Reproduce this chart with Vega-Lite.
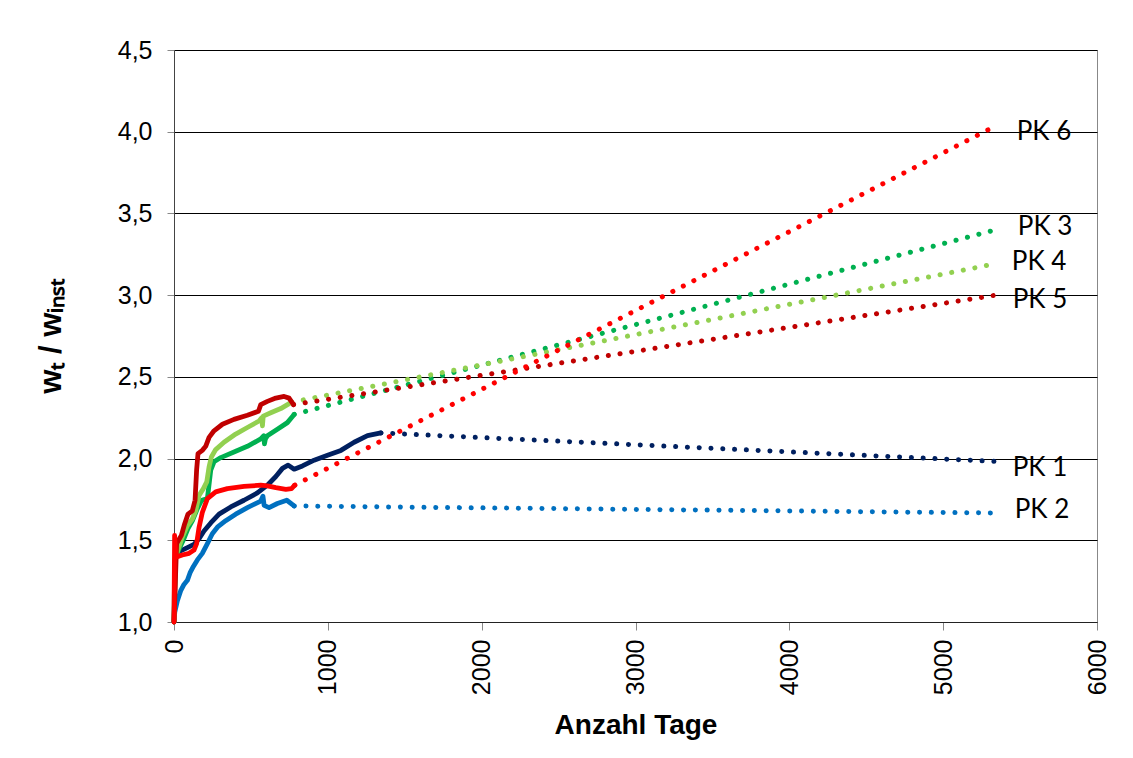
{
  "$schema": "https://vega.github.io/schema/vega-lite/v6.json",
  "width": 923,
  "height": 572,
  "autosize": {"type": "none"},
  "padding": {"left": 174, "top": 50, "right": 36, "bottom": 136},
  "background": "white",
  "config": {
    "view": {"stroke": "#888", "strokeWidth": 1},
    "axis": {"labelFont": "Liberation Sans", "titleFont": "Liberation Sans", "labelColor": "black", "titleColor": "black"}
  },
  "datasets": {
    "series": [
      {"pk": "PK 1", "kind": "m", "day": 0, "value": 1.0},
      {"pk": "PK 1", "kind": "m", "day": 11, "value": 1.42},
      {"pk": "PK 1", "kind": "m", "day": 43, "value": 1.435},
      {"pk": "PK 1", "kind": "m", "day": 87, "value": 1.455},
      {"pk": "PK 1", "kind": "m", "day": 130, "value": 1.475},
      {"pk": "PK 1", "kind": "m", "day": 163, "value": 1.51},
      {"pk": "PK 1", "kind": "m", "day": 195, "value": 1.557},
      {"pk": "PK 1", "kind": "m", "day": 239, "value": 1.606},
      {"pk": "PK 1", "kind": "m", "day": 293, "value": 1.66},
      {"pk": "PK 1", "kind": "m", "day": 369, "value": 1.704},
      {"pk": "PK 1", "kind": "m", "day": 455, "value": 1.745},
      {"pk": "PK 1", "kind": "m", "day": 542, "value": 1.79},
      {"pk": "PK 1", "kind": "m", "day": 607, "value": 1.837},
      {"pk": "PK 1", "kind": "m", "day": 662, "value": 1.89},
      {"pk": "PK 1", "kind": "m", "day": 705, "value": 1.94},
      {"pk": "PK 1", "kind": "m", "day": 742, "value": 1.96},
      {"pk": "PK 1", "kind": "m", "day": 781, "value": 1.935},
      {"pk": "PK 1", "kind": "m", "day": 835, "value": 1.955},
      {"pk": "PK 1", "kind": "m", "day": 911, "value": 1.99},
      {"pk": "PK 1", "kind": "m", "day": 998, "value": 2.02},
      {"pk": "PK 1", "kind": "m", "day": 1085, "value": 2.05},
      {"pk": "PK 1", "kind": "m", "day": 1171, "value": 2.1},
      {"pk": "PK 1", "kind": "m", "day": 1258, "value": 2.14},
      {"pk": "PK 1", "kind": "m", "day": 1345, "value": 2.157},
      {"pk": "PK 1", "kind": "f", "day": 1345, "value": 2.157},
      {"pk": "PK 1", "kind": "f", "day": 5330, "value": 1.983},

      {"pk": "PK 2", "kind": "m", "day": 0, "value": 1.0},
      {"pk": "PK 2", "kind": "m", "day": 5, "value": 1.06},
      {"pk": "PK 2", "kind": "m", "day": 22, "value": 1.13},
      {"pk": "PK 2", "kind": "m", "day": 43, "value": 1.19},
      {"pk": "PK 2", "kind": "m", "day": 65, "value": 1.23},
      {"pk": "PK 2", "kind": "m", "day": 87, "value": 1.255},
      {"pk": "PK 2", "kind": "m", "day": 104, "value": 1.3},
      {"pk": "PK 2", "kind": "m", "day": 126, "value": 1.34},
      {"pk": "PK 2", "kind": "m", "day": 152, "value": 1.38},
      {"pk": "PK 2", "kind": "m", "day": 184, "value": 1.42},
      {"pk": "PK 2", "kind": "m", "day": 217, "value": 1.48},
      {"pk": "PK 2", "kind": "m", "day": 249, "value": 1.54},
      {"pk": "PK 2", "kind": "m", "day": 282, "value": 1.58},
      {"pk": "PK 2", "kind": "m", "day": 336, "value": 1.62},
      {"pk": "PK 2", "kind": "m", "day": 401, "value": 1.66},
      {"pk": "PK 2", "kind": "m", "day": 477, "value": 1.7},
      {"pk": "PK 2", "kind": "m", "day": 564, "value": 1.74},
      {"pk": "PK 2", "kind": "m", "day": 578, "value": 1.77},
      {"pk": "PK 2", "kind": "m", "day": 586, "value": 1.714},
      {"pk": "PK 2", "kind": "m", "day": 618, "value": 1.7},
      {"pk": "PK 2", "kind": "m", "day": 672, "value": 1.725},
      {"pk": "PK 2", "kind": "m", "day": 733, "value": 1.745},
      {"pk": "PK 2", "kind": "m", "day": 781, "value": 1.71},
      {"pk": "PK 2", "kind": "f", "day": 781, "value": 1.71},
      {"pk": "PK 2", "kind": "f", "day": 5330, "value": 1.667},

      {"pk": "PK 3", "kind": "m", "day": 0, "value": 1.0},
      {"pk": "PK 3", "kind": "m", "day": 5, "value": 1.38},
      {"pk": "PK 3", "kind": "m", "day": 30, "value": 1.44},
      {"pk": "PK 3", "kind": "m", "day": 60, "value": 1.5},
      {"pk": "PK 3", "kind": "m", "day": 90, "value": 1.57},
      {"pk": "PK 3", "kind": "m", "day": 120, "value": 1.62},
      {"pk": "PK 3", "kind": "m", "day": 150, "value": 1.69},
      {"pk": "PK 3", "kind": "m", "day": 180, "value": 1.745},
      {"pk": "PK 3", "kind": "m", "day": 217, "value": 1.755},
      {"pk": "PK 3", "kind": "m", "day": 239, "value": 1.93},
      {"pk": "PK 3", "kind": "m", "day": 260, "value": 1.98},
      {"pk": "PK 3", "kind": "m", "day": 304, "value": 2.006},
      {"pk": "PK 3", "kind": "m", "day": 390, "value": 2.04},
      {"pk": "PK 3", "kind": "m", "day": 477, "value": 2.075},
      {"pk": "PK 3", "kind": "m", "day": 564, "value": 2.12},
      {"pk": "PK 3", "kind": "m", "day": 584, "value": 2.14},
      {"pk": "PK 3", "kind": "m", "day": 588, "value": 2.09},
      {"pk": "PK 3", "kind": "m", "day": 594, "value": 2.12},
      {"pk": "PK 3", "kind": "m", "day": 607, "value": 2.14},
      {"pk": "PK 3", "kind": "m", "day": 672, "value": 2.18},
      {"pk": "PK 3", "kind": "m", "day": 737, "value": 2.22},
      {"pk": "PK 3", "kind": "m", "day": 781, "value": 2.27},
      {"pk": "PK 3", "kind": "f", "day": 781, "value": 2.27},
      {"pk": "PK 3", "kind": "f", "day": 5330, "value": 3.397},

      {"pk": "PK 4", "kind": "m", "day": 0, "value": 1.0},
      {"pk": "PK 4", "kind": "m", "day": 11, "value": 1.4},
      {"pk": "PK 4", "kind": "m", "day": 33, "value": 1.46},
      {"pk": "PK 4", "kind": "m", "day": 54, "value": 1.52},
      {"pk": "PK 4", "kind": "m", "day": 87, "value": 1.59},
      {"pk": "PK 4", "kind": "m", "day": 119, "value": 1.63},
      {"pk": "PK 4", "kind": "m", "day": 141, "value": 1.68},
      {"pk": "PK 4", "kind": "m", "day": 163, "value": 1.775},
      {"pk": "PK 4", "kind": "m", "day": 191, "value": 1.816},
      {"pk": "PK 4", "kind": "m", "day": 213, "value": 1.857},
      {"pk": "PK 4", "kind": "m", "day": 228, "value": 1.95},
      {"pk": "PK 4", "kind": "m", "day": 243, "value": 2.01},
      {"pk": "PK 4", "kind": "m", "day": 271, "value": 2.055},
      {"pk": "PK 4", "kind": "m", "day": 325, "value": 2.1},
      {"pk": "PK 4", "kind": "m", "day": 401, "value": 2.15},
      {"pk": "PK 4", "kind": "m", "day": 477, "value": 2.19},
      {"pk": "PK 4", "kind": "m", "day": 553, "value": 2.23},
      {"pk": "PK 4", "kind": "m", "day": 570, "value": 2.25},
      {"pk": "PK 4", "kind": "m", "day": 575, "value": 2.2},
      {"pk": "PK 4", "kind": "m", "day": 580, "value": 2.26},
      {"pk": "PK 4", "kind": "m", "day": 629, "value": 2.28},
      {"pk": "PK 4", "kind": "m", "day": 694, "value": 2.306},
      {"pk": "PK 4", "kind": "m", "day": 765, "value": 2.345},
      {"pk": "PK 4", "kind": "f", "day": 765, "value": 2.345},
      {"pk": "PK 4", "kind": "f", "day": 5330, "value": 3.19},

      {"pk": "PK 5", "kind": "m", "day": 0, "value": 1.0},
      {"pk": "PK 5", "kind": "m", "day": 17, "value": 1.48},
      {"pk": "PK 5", "kind": "m", "day": 48, "value": 1.53},
      {"pk": "PK 5", "kind": "m", "day": 69, "value": 1.6},
      {"pk": "PK 5", "kind": "m", "day": 91, "value": 1.66},
      {"pk": "PK 5", "kind": "m", "day": 119, "value": 1.68},
      {"pk": "PK 5", "kind": "m", "day": 137, "value": 1.745},
      {"pk": "PK 5", "kind": "m", "day": 147, "value": 1.93},
      {"pk": "PK 5", "kind": "m", "day": 156, "value": 2.03},
      {"pk": "PK 5", "kind": "m", "day": 184, "value": 2.05},
      {"pk": "PK 5", "kind": "m", "day": 206, "value": 2.075},
      {"pk": "PK 5", "kind": "m", "day": 228, "value": 2.13},
      {"pk": "PK 5", "kind": "m", "day": 260, "value": 2.17},
      {"pk": "PK 5", "kind": "m", "day": 315, "value": 2.21},
      {"pk": "PK 5", "kind": "m", "day": 390, "value": 2.24},
      {"pk": "PK 5", "kind": "m", "day": 477, "value": 2.265},
      {"pk": "PK 5", "kind": "m", "day": 549, "value": 2.29},
      {"pk": "PK 5", "kind": "m", "day": 564, "value": 2.33},
      {"pk": "PK 5", "kind": "m", "day": 607, "value": 2.35},
      {"pk": "PK 5", "kind": "m", "day": 662, "value": 2.37},
      {"pk": "PK 5", "kind": "m", "day": 716, "value": 2.38},
      {"pk": "PK 5", "kind": "m", "day": 748, "value": 2.37},
      {"pk": "PK 5", "kind": "m", "day": 777, "value": 2.33},
      {"pk": "PK 5", "kind": "f", "day": 777, "value": 2.33},
      {"pk": "PK 5", "kind": "f", "day": 5330, "value": 2.998},

      {"pk": "PK 6", "kind": "m", "day": 0, "value": 1.0},
      {"pk": "PK 6", "kind": "m", "day": 4, "value": 1.53},
      {"pk": "PK 6", "kind": "m", "day": 12, "value": 1.4},
      {"pk": "PK 6", "kind": "m", "day": 22, "value": 1.4},
      {"pk": "PK 6", "kind": "m", "day": 54, "value": 1.41},
      {"pk": "PK 6", "kind": "m", "day": 98, "value": 1.42},
      {"pk": "PK 6", "kind": "m", "day": 130, "value": 1.44},
      {"pk": "PK 6", "kind": "m", "day": 147, "value": 1.48},
      {"pk": "PK 6", "kind": "m", "day": 163, "value": 1.58},
      {"pk": "PK 6", "kind": "m", "day": 184, "value": 1.67},
      {"pk": "PK 6", "kind": "m", "day": 217, "value": 1.755},
      {"pk": "PK 6", "kind": "m", "day": 271, "value": 1.796},
      {"pk": "PK 6", "kind": "m", "day": 347, "value": 1.816},
      {"pk": "PK 6", "kind": "m", "day": 455, "value": 1.83},
      {"pk": "PK 6", "kind": "m", "day": 564, "value": 1.837},
      {"pk": "PK 6", "kind": "m", "day": 607, "value": 1.833},
      {"pk": "PK 6", "kind": "m", "day": 662, "value": 1.822},
      {"pk": "PK 6", "kind": "m", "day": 727, "value": 1.812},
      {"pk": "PK 6", "kind": "m", "day": 764, "value": 1.816},
      {"pk": "PK 6", "kind": "m", "day": 785, "value": 1.837},
      {"pk": "PK 6", "kind": "f", "day": 785, "value": 1.837},
      {"pk": "PK 6", "kind": "f", "day": 5310, "value": 4.02}
    ],
    "labels": [
      {"pk": "PK 1", "day": 5452, "value": 1.94},
      {"pk": "PK 2", "day": 5465, "value": 1.685},
      {"pk": "PK 3", "day": 5485, "value": 3.42},
      {"pk": "PK 4", "day": 5446, "value": 3.2},
      {"pk": "PK 5", "day": 5452, "value": 2.97},
      {"pk": "PK 6", "day": 5478, "value": 4.0}
    ]
  },
  "layer": [
    {
      "data": {"name": "series"},
      "transform": [{"filter": "datum.kind == 'f'"}],
      "mark": {"type": "line", "strokeWidth": 5, "strokeDash": [0.1, 11.7], "strokeCap": "round", "clip": false},
      "encoding": {
        "x": {"field": "day", "type": "quantitative"},
        "y": {"field": "value", "type": "quantitative"},
        "color": {"field": "pk", "type": "nominal", "legend": null,
          "scale": {"domain": ["PK 1", "PK 2", "PK 3", "PK 4", "PK 5", "PK 6"],
                    "range": ["#002060", "#0070C0", "#00B050", "#92D050", "#C00000", "#FF0000"]}}
      }
    },
    {
      "data": {"name": "series"},
      "transform": [{"filter": "datum.kind == 'm'"}],
      "mark": {"type": "line", "strokeWidth": 4.8, "strokeJoin": "round", "strokeCap": "round", "clip": false},
      "encoding": {
        "x": {"field": "day", "type": "quantitative",
          "scale": {"domain": [0, 6000], "nice": false, "zero": true},
          "axis": {"values": [0, 1000, 2000, 3000, 4000, 5000, 6000], "format": "d", "labelAngle": 270,
                   "labelFontSize": 25, "labelPadding": 9, "tickSize": 8, "tickColor": "#888", "domainColor": "#222",
                   "grid": false, "title": "Anzahl Tage", "titleFont": "Liberation Sans", "titleFontSize": 28, "titleFontWeight": "bold", "titlePadding": 17}},
        "y": {"field": "value", "type": "quantitative",
          "scale": {"domain": [1, 4.5], "nice": false, "zero": false},
          "axis": {"values": [1, 1.5, 2, 2.5, 3, 3.5, 4, 4.5],
                   "labelExpr": "replace(format(datum.value, '.1f'), '.', ',')",
                   "labelFontSize": 25, "labelPadding": 15, "tickSize": 7, "tickColor": "#888", "domainColor": "#444",
                   "grid": true, "gridColor": "black", "gridWidth": 1, "gridOpacity": 1,
                   "title": "wₜ / wᵢₙₛₜ", "titleFont": "Liberation Sans", "titleFontSize": 31, "titleFontWeight": "bold", "titlePadding": 50}},
        "color": {"field": "pk", "type": "nominal", "legend": null}
      }
    },
    {
      "data": {"name": "labels"},
      "mark": {"type": "text", "align": "left", "baseline": "middle", "font": "Lato", "fontSize": 26, "color": "black", "clip": false},
      "encoding": {
        "x": {"field": "day", "type": "quantitative"},
        "y": {"field": "value", "type": "quantitative"},
        "text": {"field": "pk"}
      }
    }
  ]
}
